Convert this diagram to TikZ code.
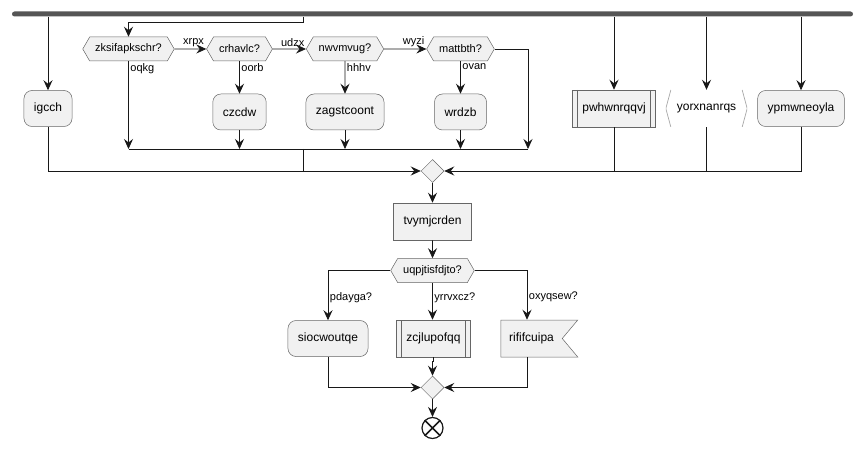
\documentclass[tikz,border=0pt]{standalone}
\usepackage{fontspec}
\setmainfont{Liberation Sans}
\usepackage{tikz}
\usetikzlibrary{calc}
\usetikzlibrary{arrows.meta, shapes.geometric, shapes.symbols}
\definecolor{boxfill}{HTML}{F1F1F1}
\definecolor{boxline}{HTML}{181818}
\definecolor{barfill}{HTML}{555555}
\tikzstyle{activitybox}=[rectangle,rounded corners=8pt,draw=black!60,line width=0.5pt,
fill=boxfill,minimum height=36pt,inner xsep=10pt,font=\fontsize{12}{14}\selectfont]
\tikzstyle{plainbox}=[rectangle,draw=black!60,line width=0.5pt,
fill=boxfill,minimum height=37pt,inner xsep=10pt,font=\fontsize{12}{14}\selectfont]
\tikzstyle{subbox}=[plainbox,path picture={\draw[black!60,line width=0.5pt]
([xshift=5pt]path picture bounding box.north west) -- ([xshift=5pt]path picture bounding box.south west)
([xshift=-5pt]path picture bounding box.north east) -- ([xshift=-5pt]path picture bounding box.south east);}]
\tikzstyle{inputbox}=[rectangle,minimum height=37pt,inner xsep=11pt,font=\fontsize{12}{14}\selectfont,
path picture={\draw[black!35,line width=0.7pt]
([xshift=5pt]path picture bounding box.north west) -- (path picture bounding box.west)
-- ([xshift=5pt]path picture bounding box.south west)
([xshift=-5pt]path picture bounding box.north east) -- (path picture bounding box.east)
-- ([xshift=-5pt]path picture bounding box.south east);}]
\tikzstyle{decisionbox}=[signal,signal to=west and east,signal pointer angle=120,draw=black!60,
line width=0.5pt,fill=boxfill,minimum height=24pt,inner xsep=5.5pt,inner ysep=0pt,
font=\fontsize{11}{13}\selectfont]
\tikzstyle{flagbox}=[signal,signal to=nowhere,signal from=east,signal pointer angle=100,draw=black!60,
line width=0.5pt,fill=boxfill,minimum height=37pt,minimum width=77pt,inner xsep=6pt,
font=\fontsize{12}{14}\selectfont]
\tikzstyle{mergebox}=[diamond,draw=black!60,line width=0.5pt,fill=boxfill,minimum size=23pt,inner sep=0pt]
\tikzstyle{forkbar}=[rectangle,fill=barfill,rounded corners=2.5pt,minimum width=841pt,
minimum height=5pt,inner sep=0pt]
\tikzstyle{endnode}=[circle,draw=boxline,line width=1.2pt,fill=white,minimum size=21pt,inner sep=0pt]
\tikzstyle{edgepath}=[-{Stealth[length=10pt,width=9pt,inset=3.5pt]},draw=boxline,line width=0.8pt]
\tikzstyle{plainpath}=[draw=boxline,line width=0.8pt]
\tikzstyle{edgelabel}=[inner sep=1.5pt,font=\fontsize{11}{13}\selectfont]

\begin{document}
\begin{tikzpicture}[x=1pt,y=-1pt]
    \useasboundingbox (0,0) rectangle (866,449);
    \node[forkbar] (fork) at (432.5,14) {};

    % first branch
    \node[activitybox] (igcch) at (48,108.5) {igcch};

    % chain of decisions
    \node[decisionbox] (zks) at (128.5,49) {zksifapkschr?};
    \node[decisionbox] (crh) at (239.5,49) {crhavlc?};
    \node[decisionbox] (nwv) at (345,49) {nwvmvug?};
    \node[decisionbox] (mat) at (460.5,49) {mattbth?};
    \node[activitybox] (czcdw) at (239.5,112) {czcdw};
    \node[activitybox] (zag) at (345,112) {zagstcoont};
    \node[activitybox] (wrdzb) at (460.5,112) {wrdzb};
    \coordinate (inner) at (303,149);
    \coordinate (innerend) at (528,149);

    % right branches
    \node[subbox] (pwh) at (614,108.5) {pwhwnrqqvj};
    \node[inputbox] (yor) at (706.5,108.5) {yorxnanrqs};
    \node[activitybox] (ypm) at (801,108.5) {ypmwneoyla};

    \node[mergebox] (merge1) at (432.5,171) {};

    \path
        (fork.south -| igcch) edge[edgepath] node {} (igcch)
        (fork.south -| pwh) edge[edgepath] node {} (pwh)
        (fork.south -| yor) edge[edgepath] node {} (yor)
        (fork.south -| ypm) edge[edgepath] node {} (ypm)
        (zks) edge[edgepath] node[edgelabel,above,pos=0.6] {xrpx} (crh)
        (crh) edge[edgepath] node[edgelabel,above,pos=0.6] {udzx} (nwv)
        (nwv) edge[edgepath] node[edgelabel,above,pos=0.7] {wyzi} (mat)
        (crh) edge[edgepath] node[edgelabel,anchor=north west,at start] {oorb} (czcdw)
        (nwv) edge[edgepath] node[edgelabel,anchor=north west,at start] {hhhv} (zag)
        (mat) edge[edgepath] node[edgelabel,anchor=north west,at start] {ovan} (wrdzb)
        (czcdw) edge[edgepath] node {} (czcdw |- inner)
        (zag) edge[edgepath] node {} (zag |- inner)
        (wrdzb) edge[edgepath] node {} (wrdzb |- inner);

    \draw[edgepath] (zks.south) -- node[edgelabel,anchor=north west,at start] {oqkg} (zks.south |- inner);
    \draw[edgepath] (fork.south -| inner) -- ++(0,6) -| (zks.north);
    \draw[edgepath] (mat.east) -| (innerend);
    \draw[plainpath] (zks.south |- inner) -- (innerend);
    \draw[plainpath] (inner) -- (inner |- merge1);
    \draw[edgepath] (igcch.south) |- (merge1.west);
    \draw[edgepath] (ypm.south) |- (merge1.east);
    \draw[plainpath] (pwh.south) -- (pwh.south |- merge1);
    \draw[plainpath] (yor.south) -- (yor.south |- merge1);

    % lower part
    \node[plainbox] (tvy) at (432.5,221.5) {tvymjcrden};
    \node[decisionbox] (uqp) at (432.5,270.5) {uqpjtisfdjto?};
    \node[activitybox] (sio) at (328,338.5) {siocwoutqe};
    \node[subbox] (zcj) at (433.5,338.5) {zcjlupofqq};
    \node[flagbox] (rif) at (531.5,338.5) {rififcuipa\hspace{9pt}};
    \node[mergebox] (merge2) at (432.5,387.5) {};
    \node[endnode] (stop) at (432.5,428) {};
    \draw[boxline,line width=1.5pt] (stop.north west) -- (stop.south east)
        (stop.north east) -- (stop.south west);

    \path
        (merge1) edge[edgepath] node {} (tvy)
        (tvy) edge[edgepath] node {} (uqp)
        (merge2) edge[edgepath] node {} (stop);

    \draw[edgepath] (uqp.south) -- node[edgelabel,right,pos=0.4] {yrrvxcz?} (zcj.north -| uqp);
    \draw[edgepath] (uqp.west) -| node[edgelabel,right,pos=0.77] {pdayga?} (sio.north);
    \draw[edgepath] (uqp.east) -| node[edgelabel,right,pos=0.77] {oxyqsew?} ([xshift=-4.5pt]rif.north);
    \draw[edgepath] (zcj.south) -- ++(0,4.5) -| (merge2.north);
    \draw[edgepath] (sio.south) |- (merge2.west);
    \draw[edgepath] ([xshift=-4.5pt]rif.south) |- (merge2.east);
\end{tikzpicture}
\end{document}
